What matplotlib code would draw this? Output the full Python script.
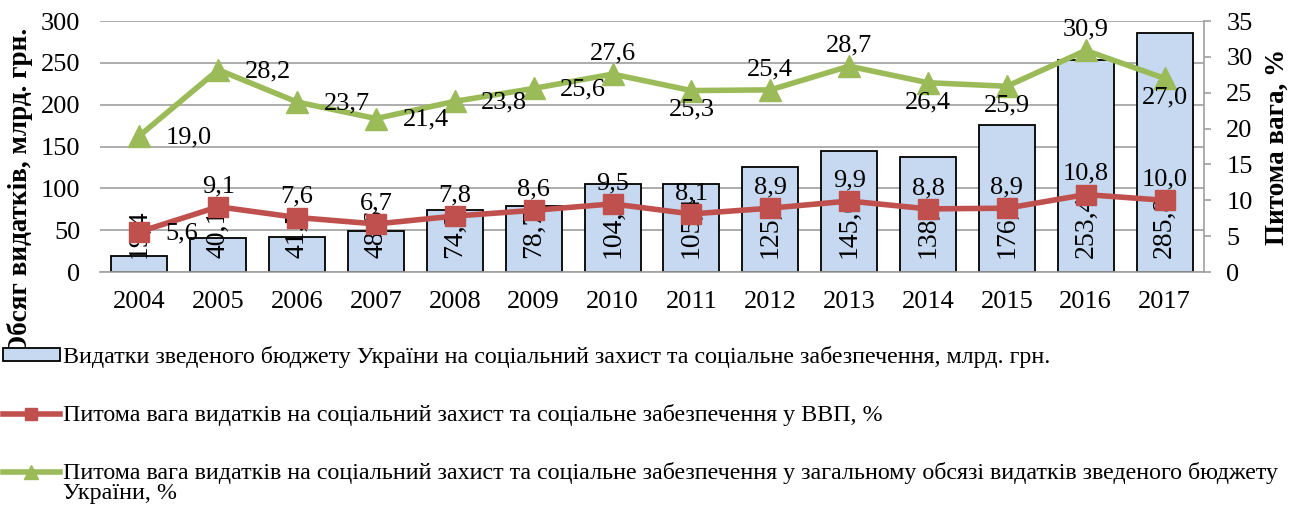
import numpy as np
import matplotlib
matplotlib.use('Agg')
from matplotlib import pyplot as plt

plt.rcParams['font.family'] = ['Liberation Serif', 'DejaVu Serif']

years = ['2004', '2005', '2006', '2007', '2008', '2009', '2010',
         '2011', '2012', '2013', '2014', '2015', '2016', '2017']
spending = [19.4, 40.1, 41.5, 48.6, 74.3, 78.7, 104.7,
            105.4, 125.3, 145.0, 138.0, 176.3, 253.4, 285.8]
share_gdp = [5.6, 9.1, 7.6, 6.7, 7.8, 8.6, 9.5,
             8.1, 8.9, 9.9, 8.8, 8.9, 10.8, 10.0]
share_budget = [19.0, 28.2, 23.7, 21.4, 23.8, 25.6, 27.6,
                25.3, 25.4, 28.7, 26.4, 25.9, 30.9, 27.0]

# label placement: r = right, a = above, b = below
pos_gdp = ['r'] + ['a'] * 13
pos_budget = ['r', 'r', 'r', 'r', 'r', 'r', 'a', 'b', 'a', 'a', 'b', 'b', 'a', 'b']

lbl_bar = 'Видатки зведеного бюджету України на соціальний захист та соціальне забезпечення, млрд. грн.'
lbl_gdp = 'Питома вага видатків на соціальний захист та соціальне забезпечення у ВВП, %'
lbl_budget = 'Питома вага видатків на соціальний захист та соціальне забезпечення у загальному обсязі видатків зведеного бюджету'
lbl_budget_2 = 'України, %'

RED = '#C0504D'
GREEN = '#9BBB59'
BLUE = '#C6D9F1'
FS = 19

def fmt(v):
    return f'{v:.1f}'.replace('.', ',')

fig = plt.figure(figsize=(12.97, 5.09), dpi=100)
ax = fig.add_axes([0.0771, 0.4656, 0.8512, 0.4931])
ax2 = ax.twinx()

x = np.arange(len(years))
bars = ax.bar(x, spending, width=0.71, color=BLUE, edgecolor='black', linewidth=1.3,
              label=lbl_bar, zorder=2)
for xi, v in zip(x, spending):
    ax.annotate(fmt(v), (xi, 0), xytext=(0, 10), textcoords='offset points',
                rotation=90, ha='center', va='bottom', fontsize=20, zorder=3)

ax.set_ylim(0, 300)
ax.set_yticks(np.arange(0, 301, 50))
ax.set_xlim(-0.5, 13.5)
ax.set_xticks(x)
ax.set_xticklabels(years)
ax.grid(axis='y', color='#A0A0A0', linewidth=1.2, zorder=0)
ax.set_axisbelow(True)
ax.tick_params(axis='y', length=0, labelsize=FS, pad=14)
ax.tick_params(axis='x', length=0, labelsize=FS, pad=14)
for s in ['top', 'left', 'right']:
    ax.spines[s].set_visible(False)
ax.spines['bottom'].set_color('#A0A0A0')
ax.spines['bottom'].set_linewidth(1.2)
ax.set_ylabel('Обсяг видатків, млрд. грн.', fontsize=19.5, fontweight='bold')
ax.yaxis.set_label_coords(-0.061, 0.32)

ax2.plot(x, share_gdp, color=RED, linewidth=4, marker='s', markersize=15,
         label=lbl_gdp, zorder=4)
ax2.plot(x, share_budget, color=GREEN, linewidth=4, marker='^', markersize=16,
         label=lbl_budget, zorder=4)

offs = {'r': ((19, -1), 'left', 'center'),
        'a': ((0, 7), 'center', 'bottom'),
        'b': ((0, -6), 'center', 'top')}
for series, positions in [(share_gdp, pos_gdp), (share_budget, pos_budget)]:
    for xi, v, p in zip(x, series, positions):
        (dx, dy), ha, va = offs[p]
        ax2.annotate(fmt(v), (xi, v), xytext=(dx, dy), textcoords='offset points',
                     ha=ha, va=va, fontsize=FS, zorder=5)

ax2.set_ylim(0, 35)
ax2.set_yticks(np.arange(0, 36, 5))
ax2.tick_params(axis='y', length=5, color='#A0A0A0', width=1.2, labelsize=FS, pad=11)
for s in ['top', 'left', 'bottom']:
    ax2.spines[s].set_visible(False)
ax2.spines['right'].set_color('#A0A0A0')
ax2.spines['right'].set_linewidth(1.2)
ax2.set_ylabel('Питома вага, %', fontsize=19.5, fontweight='bold', labelpad=9)

handles = [bars, ax2.lines[0], ax2.lines[1]]
labels = [lbl_bar, lbl_gdp, lbl_budget]
leg = fig.legend(handles, labels, loc='upper left', bbox_to_anchor=(0.002, 0.32),
                 frameon=False, fontsize=17.3, handlelength=2.4, handletextpad=0.1,
                 handleheight=0.45, labelspacing=1.5, borderaxespad=0, borderpad=0,
                 markerscale=0.6)

# second line of the last legend entry
fig.canvas.draw()
bb = leg.get_texts()[2].get_window_extent().transformed(fig.transFigure.inverted())
fig.text(bb.x0, bb.y0 + 0.003, lbl_budget_2, fontsize=17.3, ha='left', va='top')

fig.savefig('out.png', dpi=100)
